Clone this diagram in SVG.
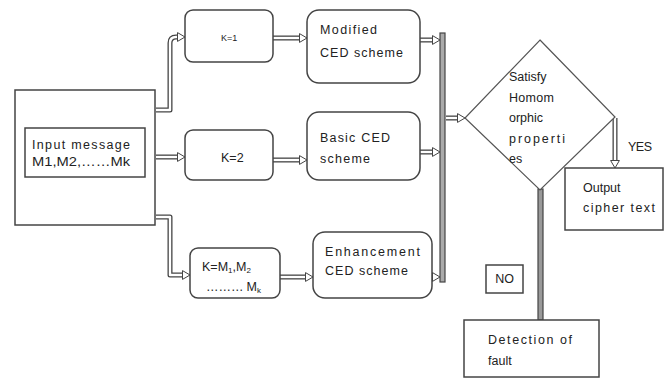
<svg xmlns="http://www.w3.org/2000/svg" width="666" height="379" viewBox="0 0 666 379">
<style>
  text { font-family: "Liberation Sans", Arial, sans-serif; fill: #222; }
  .box { fill: #fff; stroke: #444; stroke-width: 1.5; }
  .t { font-size: 12.5px; }
  .outer { fill: none; stroke: #444; stroke-width: 5; stroke-linejoin: round; }
  .inner { fill: none; stroke: #fff; stroke-width: 2.4; stroke-linejoin: round; marker-end: url(#ah); }
</style>
<defs>
  <marker id="ah" viewBox="0 0 8 10" markerWidth="8" markerHeight="10" refX="0.5" refY="5" orient="auto" markerUnits="userSpaceOnUse" overflow="visible">
    <path d="M0,0.6 L7.5,5 L0,9.4 Z" fill="#fff" stroke="#444" stroke-width="1"/>
  </marker>
</defs>

<g id="connectors">
  <path class="outer" d="M156,110 H170 V43 Q170,37 176,37 H178"/>
  <path class="inner" d="M156,110 H170 V43 Q170,37 176,37 H178"/>
  <path class="outer" d="M156,157 H178"/>
  <path class="inner" d="M156,157 H178"/>
  <path class="outer" d="M156,217 H170 V275 H183"/>
  <path class="inner" d="M156,217 H170 V275 H183"/>
  <path class="outer" d="M273,38 H300"/>
  <path class="inner" d="M273,38 H300"/>
  <path class="outer" d="M273,160 H300"/>
  <path class="inner" d="M273,160 H300"/>
  <path class="outer" d="M280,277 H306"/>
  <path class="inner" d="M280,277 H306"/>
  <path class="outer" d="M420,40 H433"/>
  <path class="inner" d="M420,40 H433"/>
  <path class="outer" d="M420,152 H433"/>
  <path class="inner" d="M420,152 H433"/>
  <path class="outer" d="M431,277 H433"/>
  <path class="inner" d="M431,277 H433"/>
  <rect x="440" y="33" width="5" height="249" fill="#aaa" stroke="#444" stroke-width="1.2"/>
  <path class="outer" d="M446,118 H458"/>
  <path class="inner" d="M446,118 H458"/>
  <path class="outer" d="M615,118 V161"/>
  <path class="inner" d="M615,118 V161"/>
  <rect x="538" y="189" width="5" height="131" fill="#999" stroke="#444" stroke-width="1.2"/>
</g>

<g id="input">
  <rect class="box" x="15" y="90" width="140" height="135"/>
  <rect class="box" x="25" y="128" width="120" height="49"/>
  <text class="t" x="32" y="149" textLength="98" lengthAdjust="spacing">Input message</text>
  <text class="t" x="32" y="166" textLength="98" lengthAdjust="spacingAndGlyphs">M1,M2,……Mk</text>
</g>

<g id="k1">
  <rect class="box" x="185" y="10" width="88" height="52" rx="8"/>
  <text x="221" y="41" font-size="9">K=1</text>
</g>
<g id="k2">
  <rect class="box" x="185" y="130" width="88" height="50" rx="8"/>
  <text class="t" x="221" y="162">K=2</text>
</g>
<g id="km">
  <rect class="box" x="190" y="248" width="90" height="50" rx="8"/>
  <text class="t" x="202" y="271">K=M<tspan font-size="8" dy="2">1</tspan><tspan dy="-2">,M</tspan><tspan font-size="8" dy="2">2</tspan></text>
  <text class="t" x="206" y="291">………<tspan dx="3">M</tspan><tspan font-size="8" dy="2">k</tspan></text>
</g>

<g id="modified">
  <rect class="box" x="307" y="10" width="113" height="73" rx="12"/>
  <text class="t" x="320" y="34" textLength="57" lengthAdjust="spacing">Modified</text>
  <text class="t" x="320" y="57" textLength="83" lengthAdjust="spacing">CED scheme</text>
</g>
<g id="basic">
  <rect class="box" x="307" y="112" width="113" height="68" rx="12"/>
  <text class="t" x="320" y="142" textLength="70" lengthAdjust="spacing">Basic CED</text>
  <text class="t" x="320" y="163" textLength="50" lengthAdjust="spacing">scheme</text>
</g>
<g id="enhancement">
  <rect class="box" x="313" y="232" width="119" height="66" rx="12"/>
  <text class="t" x="325" y="256" textLength="95" lengthAdjust="spacing">Enhancement</text>
  <text class="t" x="325" y="275" textLength="83" lengthAdjust="spacing">CED scheme</text>
</g>

<g id="decision">
  <polygon points="540,40 615,117 540,190 465,118" fill="#fff" stroke="#555" stroke-width="1.2"/>
  <text class="t" x="509" y="81">Satisfy</text>
  <text class="t" x="509" y="102" textLength="45" lengthAdjust="spacing">Homom</text>
  <text class="t" x="509" y="122">orphic</text>
  <text class="t" x="509" y="143" textLength="56" lengthAdjust="spacing">properti</text>
  <text class="t" x="509" y="163">es</text>
</g>

<text x="628" y="151" class="t" textLength="24" lengthAdjust="spacing">YES</text>

<g id="output">
  <rect class="box" x="565" y="168" width="98" height="62"/>
  <text class="t" x="583" y="192">Output</text>
  <text class="t" x="583" y="212" textLength="72" lengthAdjust="spacing">cipher text</text>
</g>

<g id="no">
  <rect class="box" x="486" y="265" width="37" height="28"/>
  <text class="t" x="504.5" y="283" text-anchor="middle">NO</text>
</g>

<g id="fault">
  <rect class="box" x="464" y="320" width="135" height="57"/>
  <text class="t" x="488" y="344" textLength="84" lengthAdjust="spacing">Detection of</text>
  <text class="t" x="488" y="365">fault</text>
</g>
</svg>
